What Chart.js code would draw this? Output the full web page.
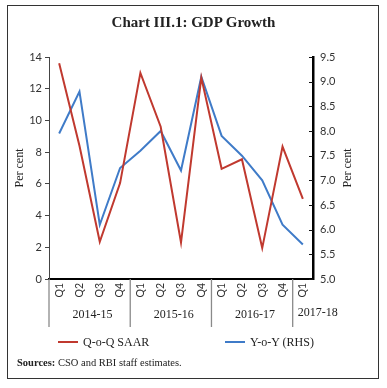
<!DOCTYPE html>
<html>
<head>
<meta charset="utf-8">
<script src="https://cdn.jsdelivr.net/npm/chart.js@4/dist/chart.umd.min.js"></script>
<style>
  html, body { margin: 0; padding: 0; background: #fff; }
  #wrap { position: relative; width: 387px; height: 388px; overflow: hidden; }
  #c { position: absolute; left: 0; top: 0; }
  #frame { position: absolute; left: 7px; top: 5px; width: 372px; height: 374px; border: 1.3px solid #333; box-sizing: border-box; pointer-events: none; }
  #title { position: absolute; left: 0; width: 387px; top: 14px; text-align: center; font: bold 15px "Liberation Serif", "DejaVu Serif", serif; color: #222; }
  .leg { position: absolute; top: 335px; font: 12px "Liberation Serif", serif; color: #222; white-space: nowrap; }
  .leg span.sw { display: inline-block; width: 20px; height: 2px; vertical-align: middle; margin-right: 5px; position: relative; top: -1px; }
  #src { position: absolute; left: 17px; top: 357px; font: 10.5px "Liberation Serif", serif; color: #222; white-space: nowrap; }
</style>
</head>
<body>
<div id="wrap">
  <canvas id="c" width="387" height="388"></canvas>
  <div id="frame"></div>
  <div id="title">Chart III.1: GDP Growth</div>
  <div class="leg" style="left:58px"><span class="sw" style="background:#C0392F"></span>Q-o-Q SAAR</div>
  <div class="leg" style="left:225px"><span class="sw" style="background:#3F7BC8"></span>Y-o-Y (RHS)</div>
  <div id="src"><b>Sources:</b> CSO and RBI staff estimates.</div>
</div>
<script>
const quarters = ['Q1','Q2','Q3','Q4','Q1','Q2','Q3','Q4','Q1','Q2','Q3','Q4','Q1'];
const years = ['2014-15','2015-16','2016-17','2017-18'];
const yearSpans = [4, 4, 4, 1];
const qoqSAAR = [13.6, 8.4, 2.35, 6.05, 13.0, 9.6, 2.3, 12.7, 6.95, 7.55, 1.95, 8.35, 5.05];
const yoyRHS  = [7.95, 8.8, 6.1, 7.25, 7.6, 8.0, 7.2, 9.1, 7.9, 7.5, 7.0, 6.1, 5.7];
const leftTicks = { min: 0, max: 14, step: 2 };
const rightTicks = { min: 5, max: 9.5, step: 0.5 };

const RED = '#C0392F', BLUE = '#3F7BC8';
const tickFont = { family: 'Lato, "Liberation Sans", sans-serif', size: 11 };

const extras = {
  id: 'extras',
  afterDraw(chart) {
    const ctx = chart.ctx;
    const xs = chart.scales.x, yr = chart.scales.y1;
    const area = chart.chartArea;
    ctx.save();
    // inward ticks on right axis
    ctx.strokeStyle = '#111'; ctx.lineWidth = 1;
    yr.ticks.forEach(t => {
      const y = Math.round(yr.getPixelForValue(t.value)) + 0.5;
      ctx.beginPath(); ctx.moveTo(area.right - 4, y); ctx.lineTo(area.right, y); ctx.stroke();
    });
    // group separators & year labels
    ctx.strokeStyle = '#8a8a8a'; ctx.lineWidth = 1.3;
    const half = (xs.getPixelForValue(1) - xs.getPixelForValue(0)) / 2;
    let idx = 0;
    const bounds = [];
    yearSpans.forEach(n => { bounds.push([idx, idx + n - 1]); idx += n; });
    const seps = [area.left];
    bounds.slice(1).forEach(b => seps.push(xs.getPixelForValue(b[0]) - half));
    seps.forEach(x => {
      ctx.beginPath(); ctx.moveTo(x, area.bottom); ctx.lineTo(x, area.bottom + 48); ctx.stroke();
    });
    ctx.fillStyle = '#222';
    ctx.font = '12px "Liberation Serif", serif';
    ctx.textBaseline = 'middle';
    years.forEach((yl, i) => {
      const [a, b] = bounds[i];
      if (b - a >= 1) {
        ctx.textAlign = 'center';
        const cx = (xs.getPixelForValue(a) + xs.getPixelForValue(b)) / 2;
        ctx.fillText(yl, cx + 3, area.bottom + 36);
      } else {
        ctx.textAlign = 'left';
        ctx.fillText(yl, seps[i] + 5, area.bottom + 34);
      }
    });
    // axis titles
    ctx.font = '12px "Liberation Serif", serif';
    ctx.textAlign = 'center';
    const cy = (area.top + area.bottom) / 2;
    [20, 348].forEach(x => {
      ctx.save(); ctx.translate(x, cy); ctx.rotate(-Math.PI / 2);
      ctx.fillText('Per cent', 0, 0); ctx.restore();
    });
    ctx.restore();
  }
};

new Chart(document.getElementById('c'), {
  type: 'line',
  data: {
    labels: quarters,
    datasets: [
      { label: 'Q-o-Q SAAR', data: qoqSAAR, yAxisID: 'y', borderColor: RED, backgroundColor: RED, borderWidth: 2, pointRadius: 0, tension: 0 },
      { label: 'Y-o-Y (RHS)', data: yoyRHS, yAxisID: 'y1', borderColor: BLUE, backgroundColor: BLUE, borderWidth: 2, pointRadius: 0, tension: 0 }
    ]
  },
  options: {
    responsive: false,
    animation: false,
    events: [],
    layout: { padding: { left: 8, right: 8, top: 57, bottom: 79 } },
    plugins: { legend: { display: false }, tooltip: { enabled: false }, title: { display: false } },
    scales: {
      x: {
        offset: true,
        grid: { display: false, drawTicks: false },
        border: { display: true, color: '#000', width: 2 },
        ticks: { minRotation: 90, maxRotation: 90, padding: 4, color: '#333', font: { family: tickFont.family, size: 10.5 }, autoSkip: false },
        afterFit(s) { s.height = 30; }
      },
      y: {
        position: 'left',
        min: leftTicks.min, max: leftTicks.max,
        grid: { display: true, drawOnChartArea: false, drawTicks: true, tickLength: 4, color: '#444' },
        border: { display: true, color: '#444', width: 1 },
        ticks: { stepSize: leftTicks.step, padding: 3, color: '#333', font: tickFont },
        afterFit(s) { s.width = 41; }
      },
      y1: {
        position: 'right',
        min: rightTicks.min, max: rightTicks.max,
        grid: { display: true, drawOnChartArea: false, drawTicks: false },
        border: { display: true, color: '#000', width: 2.5 },
        ticks: { stepSize: rightTicks.step, padding: 7, color: '#333', font: tickFont, callback: v => Number(v).toFixed(1) },
        afterFit(s) { s.width = 66; }
      }
    }
  },
  plugins: [extras]
});
</script>
</body>
</html>
